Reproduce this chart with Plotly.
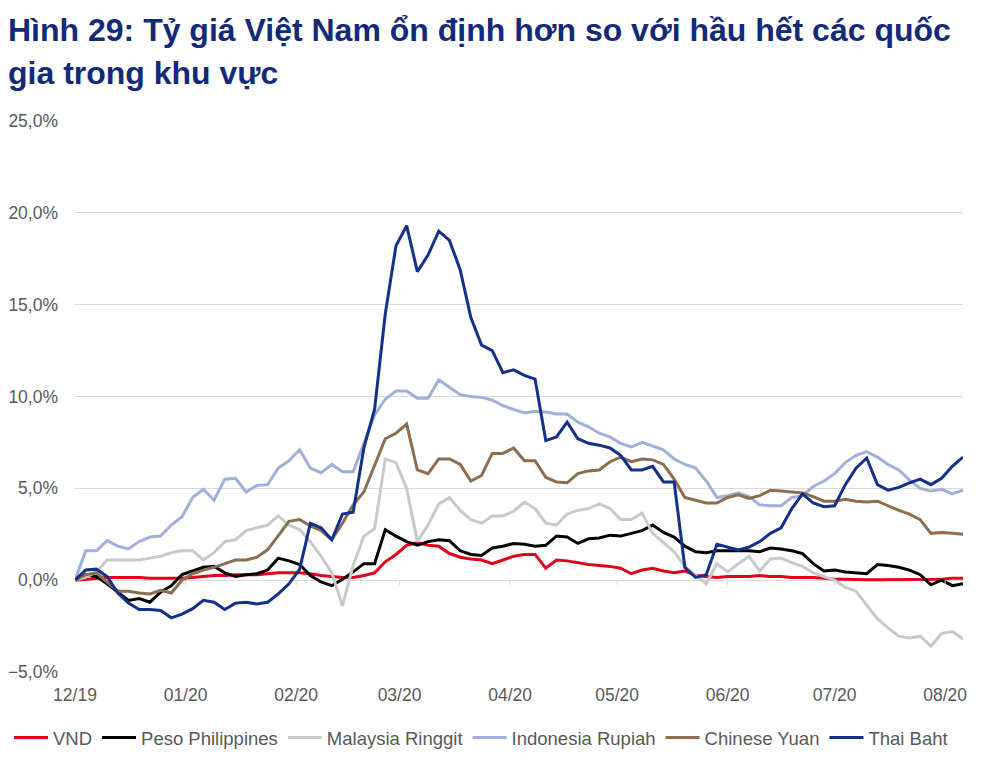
import pandas as pd
import plotly.graph_objects as go

# day offsets from 2019-12-01, one sample every 3 days
day_offset = list(range(0, 250, 3))

vnd = [0, 0.05, 0.1, 0.15, 0.15, 0.15, 0.15, 0.1, 0.1, 0.1,
       0.1, 0.15, 0.2, 0.25, 0.25, 0.3, 0.3, 0.3, 0.35, 0.4,
       0.4, 0.4, 0.35, 0.25, 0.2, 0.15, 0.15, 0.25, 0.4, 1.0,
       1.4, 1.9, 2.05, 1.9, 1.85, 1.45, 1.25, 1.15, 1.1, 0.9,
       1.1, 1.3, 1.4, 1.4, 0.65, 1.1, 1.05, 0.95, 0.85, 0.8,
       0.75, 0.65, 0.35, 0.55, 0.65, 0.5, 0.4, 0.5, 0.25, 0.2,
       0.15, 0.2, 0.2, 0.2, 0.25, 0.2, 0.2, 0.15, 0.15, 0.15,
       0.1, 0.05, 0.05, 0.02, 0.02, 0.02, 0.02, 0.02, 0.02, 0.02,
       0.05, 0.05, 0.1, 0.1]

peso = [0, 0.3, 0.2, -0.2, -0.65, -1.1, -1.0, -1.2, -0.65, -0.3,
        0.3, 0.5, 0.7, 0.75, 0.4, 0.2, 0.3, 0.35, 0.55, 1.2,
        1.05, 0.85, 0.25, -0.1, -0.3, 0.05, 0.45, 0.9, 0.9, 2.75,
        2.4, 2.1, 1.9, 2.1, 2.2, 2.15, 1.6, 1.4, 1.35, 1.75,
        1.85, 2.0, 1.95, 1.85, 1.9, 2.4, 2.35, 2.0, 2.25, 2.3,
        2.45, 2.4, 2.55, 2.7, 3.0, 2.6, 2.35, 1.85, 1.55, 1.5,
        1.6, 1.6, 1.6, 1.6, 1.55, 1.75, 1.7, 1.6, 1.45, 0.9,
        0.5, 0.55, 0.45, 0.4, 0.35, 0.85, 0.8, 0.7, 0.55, 0.3,
        -0.25, 0.0, -0.3, -0.2]

ringgit = [0, 0.15, 0.45, 1.1, 1.1, 1.1, 1.1, 1.2, 1.3, 1.5,
           1.6, 1.6, 1.1, 1.5, 2.1, 2.2, 2.7, 2.85, 3.0, 3.5,
           3.0, 2.75, 2.1, 1.3, 0.4, -1.4, 0.8, 2.4, 2.8, 6.6,
           6.4, 5.0, 2.1, 3.0, 4.15, 4.5, 3.8, 3.3, 3.1, 3.5,
           3.5, 3.75, 4.25, 3.9, 3.1, 3.0, 3.6, 3.8, 3.9, 4.15,
           3.9, 3.3, 3.3, 3.65, 2.55, 2.05, 1.55, 0.75, 0.3, -0.2,
           0.9, 0.45, 0.9, 1.3, 0.5, 1.15, 1.2, 0.95, 0.75, 0.4,
           0.2, 0.0, -0.4, -0.6, -1.35, -2.1, -2.6, -3.05, -3.15, -3.05,
           -3.6, -2.9, -2.8, -3.2]

rupiah = [0, 1.6, 1.6, 2.15, 1.85, 1.7, 2.1, 2.35, 2.4, 3.0,
          3.45, 4.5, 4.95, 4.35, 5.5, 5.55, 4.8, 5.15, 5.2, 6.1,
          6.5, 7.1, 6.1, 5.85, 6.3, 5.9, 5.9, 7.4, 9.0, 9.85,
          10.3, 10.3, 9.9, 9.9, 10.9, 10.5, 10.1, 10.0, 9.95, 9.8,
          9.5, 9.3, 9.1, 9.2, 9.15, 9.05, 9.05, 8.6, 8.35, 8.0,
          7.8, 7.45, 7.25, 7.5, 7.3, 7.1, 6.6, 6.3, 6.1, 5.4,
          4.5, 4.6, 4.75, 4.55, 4.1, 4.05, 4.05, 4.5, 4.6, 5.1,
          5.4, 5.8, 6.4, 6.8, 7.0, 6.7, 6.3, 6.0, 5.45, 5.0,
          4.85, 4.95, 4.7, 4.9]

yuan = [0, 0.3, 0.4, -0.1, -0.6, -0.6, -0.7, -0.75, -0.55, -0.7,
        0.0, 0.35, 0.55, 0.7, 0.9, 1.1, 1.1, 1.25, 1.65, 2.4,
        3.2, 3.3, 2.95, 2.7, 2.2, 3.1, 4.1, 4.8, 6.2, 7.7,
        8.0, 8.5, 6.0, 5.8, 6.6, 6.6, 6.3, 5.4, 5.7, 6.9,
        6.9, 7.2, 6.5, 6.5, 5.6, 5.35, 5.3, 5.8, 5.95, 6.0,
        6.45, 6.7, 6.45, 6.6, 6.55, 6.3, 5.5, 4.5, 4.35, 4.2,
        4.2, 4.5, 4.65, 4.45, 4.6, 4.9, 4.85, 4.8, 4.75, 4.55,
        4.3, 4.3, 4.4, 4.3, 4.25, 4.3, 4.05, 3.8, 3.6, 3.3,
        2.55, 2.6, 2.55, 2.5]

baht = [0, 0.55, 0.6, 0.2, -0.7, -1.25, -1.6, -1.6, -1.65, -2.05,
        -1.85, -1.55, -1.1, -1.2, -1.6, -1.25, -1.2, -1.3, -1.2, -0.75,
        -0.2, 0.6, 3.1, 2.85, 2.2, 3.6, 3.7, 7.2, 9.3, 14.5,
        18.2, 19.3, 16.8, 17.7, 19.0, 18.5, 16.9, 14.3, 12.8, 12.5,
        11.3, 11.45, 11.15, 10.95, 7.6, 7.8, 8.6, 7.7, 7.45, 7.35,
        7.2, 6.8, 6.0, 6.0, 6.2, 5.35, 5.35, 0.7, 0.15, 0.3,
        1.95, 1.8, 1.65, 1.8, 2.1, 2.55, 2.85, 3.9, 4.7, 4.2,
        4.0, 4.05, 5.2, 6.1, 6.65, 5.2, 4.9, 5.05, 5.3, 5.5,
        5.2, 5.55, 6.2, 6.7]

series_names = ["VND", "Peso Philippines", "Malaysia Ringgit",
                "Indonesia Rupiah", "Chinese Yuan", "Thai Baht"]
series_values = [vnd, peso, ringgit, rupiah, yuan, baht]
series_colors = ["#e3001b", "#000000", "#c9c9c9",
                 "#9fb0d9", "#8c6d4f", "#12308c"]

dates = pd.Timestamp("2019-12-01") + pd.to_timedelta(day_offset, unit="D")
month_ticks = pd.date_range("2019-12-01", "2020-08-01", freq="MS")

title_color = "#13297a"
tick_color = "#595959"
grid_color = "#d9d9d9"

# page body keeps an 8px margin, so the figure is sized to fit inside it
W, H = 984, 745
L, R, T, B = 67, 29, 113, 81
plot_w, plot_h = W - L - R, H - T - B

fig = go.Figure()
for name, vals, col in zip(series_names, series_values, series_colors):
    fig.add_trace(go.Scatter(x=dates, y=vals, name=name, mode="lines",
                             line=dict(color=col, width=3)))

# small tick marks below the 0% axis line
for m in month_ticks:
    fig.add_shape(type="line", xref="x", yref="y", x0=m, x1=m, y0=0, y1=-0.28,
                  line=dict(color=grid_color, width=1))

title_lines = ["Hình 29: Tỷ giá Việt Nam ổn định hơn so với hầu hết các quốc",
               "gia trong khu vực"]
for line, yc in zip(title_lines, [22, 65]):
    fig.add_annotation(text="<b>" + line + "</b>",
                       xref="paper", yref="paper",
                       x=(-2 - L) / plot_w, y=(H - B - yc) / plot_h,
                       xanchor="left", yanchor="middle", showarrow=False,
                       font=dict(size=32, color=title_color, family="Liberation Sans"))

fig.update_layout(
    width=W, height=H,
    margin=dict(l=L, r=R, t=T, b=B, autoexpand=False),
    paper_bgcolor="white", plot_bgcolor="white",
    separators=", ",
    font=dict(family="Liberation Sans", size=17.5, color=tick_color),
    showlegend=True,
    legend=dict(orientation="h", x=(1 - L) / plot_w, xanchor="left",
                y=(H - B - 711) / plot_h, yanchor="top",
                font=dict(size=18.5, color=tick_color), itemwidth=34,
                traceorder="normal"),
)
fig.update_xaxes(type="date", range=["2019-12-01", "2020-08-06"],
                 tickvals=month_ticks, tickformat="%m/%y",
                 showgrid=False, zeroline=False, showline=False,
                 ticks="", ticklabelstandoff=10,
                 tickfont=dict(size=17.5, color=tick_color))
fig.update_yaxes(range=[-5, 25], dtick=5, tickformat=".1f", ticksuffix="%",
                 showgrid=True, gridcolor=grid_color, gridwidth=1,
                 zeroline=True, zerolinecolor=grid_color, zerolinewidth=1,
                 showline=False, ticks="", ticklabelstandoff=16,
                 tickfont=dict(size=17.5, color=tick_color))

fig.write_html("out.html")
